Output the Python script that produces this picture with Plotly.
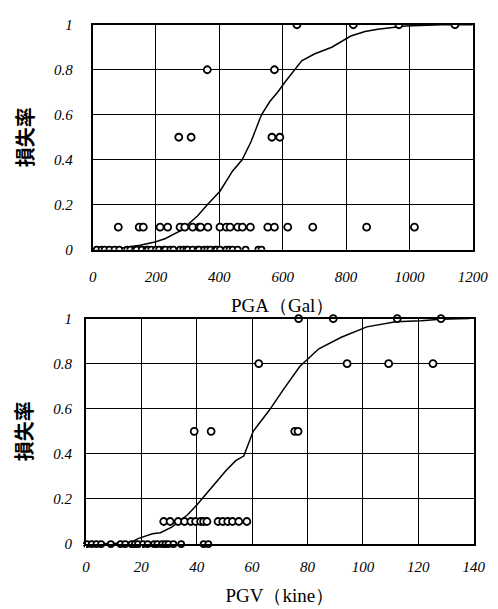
import plotly.graph_objects as go

# ---------------- data: PGA panel ----------------
pga_y1 = [645, 823, 967, 1144]
pga_y08 = [362, 574]
pga_y05 = [272, 311, 566, 591]
pga_y01 = [81, 147, 160, 213, 237, 276, 291, 316, 336, 341, 364, 402, 422, 434,
           458, 473, 498, 553, 574, 616, 695, 865, 1016]
pga_y0 = [13, 28, 38, 53, 69, 84, 109, 119, 134, 139, 155, 170, 175, 185, 200,
          210, 225, 230, 245, 255, 276, 286, 296, 301, 316, 331, 336, 352, 362,
          372, 387, 392, 402, 422, 432, 442, 458, 483, 523, 533]
pga_curve_x = [0, 50, 100, 150, 200, 230, 281, 331, 362, 402, 442, 472, 500,
               533, 560, 584, 610, 639, 660, 700, 755, 815, 860, 900, 988, 1100, 1200]
pga_curve_y = [0, 0.003, 0.01, 0.02, 0.035, 0.05, 0.087, 0.15, 0.2, 0.26, 0.35,
               0.4, 0.48, 0.6, 0.66, 0.7, 0.75, 0.8, 0.84, 0.87, 0.9, 0.95, 0.97,
               0.98, 0.995, 1.0, 1.0]

# ---------------- data: PGV panel ----------------
pgv_y1 = [76.8, 89.3, 112.4, 128.2]
pgv_y08 = [62.4, 94.3, 109.3, 125.3]
pgv_y05 = [39.1, 45.2, 75.4, 76.6]
pgv_y01 = [28.1, 30.4, 33.3, 35.6, 37.9, 39.6, 41.4, 42.5, 43.7, 47.7, 49.4,
           51.2, 52.9, 55.2, 58.1]
pgv_y0 = [0.35, 2.1, 3.8, 5.5, 9.0, 12.5, 14.2, 16.5, 17.7, 18.8, 20.6, 22.3,
          24.6, 25.8, 27.5, 28.7, 29.8, 31.6, 34.4, 42.5, 44.2]
pgv_curve_x = [0, 10, 16.0, 18.8, 24.0, 26.9, 31.0, 36.7, 40.2, 43.7, 47.1, 50.6,
               54.1, 57.0, 60.4, 66.2, 71.4, 77.2, 84.1, 92.2, 101.4, 111.8,
               121.1, 128, 138.4]
pgv_curve_y = [0, 0.002, 0.005, 0.024, 0.046, 0.05, 0.075, 0.13, 0.175, 0.226,
               0.276, 0.326, 0.37, 0.39, 0.5, 0.593, 0.687, 0.787, 0.866, 0.917,
               0.963, 0.986, 0.99, 0.997, 1.0]

fig = go.Figure()

def add_panel(cx, cy, rows, xa, ya, clip):
    fig.add_trace(go.Scatter(x=cx, y=cy, mode="lines", xaxis=xa, yaxis=ya,
                             line=dict(color="black", width=1.5), showlegend=False))
    for vals, yv, sz in rows:
        kw = {} if clip else dict(cliponaxis=False)
        fig.add_trace(go.Scatter(x=vals, y=[yv] * len(vals), mode="markers",
                                 xaxis=xa, yaxis=ya, showlegend=False,
                                 marker=dict(symbol="circle", size=sz, color="white",
                                             line=dict(color="black", width=1.8)),
                                 **kw))

add_panel(pga_curve_x, pga_curve_y,
          [(pga_y0, 0, 6), (pga_y01, 0.1, 7), (pga_y05, 0.5, 7),
           (pga_y08, 0.8, 7), (pga_y1, 1, 7)], "x", "y", True)
add_panel(pgv_curve_x, pgv_curve_y,
          [(pgv_y0, 0, 6), (pgv_y01, 0.1, 7), (pgv_y05, 0.5, 7),
           (pgv_y08, 0.8, 7), (pgv_y1, 1, 7)], "x2", "y2", False)

W, H = 498, 609
TICKFONT = dict(family="Times New Roman", size=15, color="black", style="italic")
titlefont = dict(family="Times New Roman", size=19, color="black", style="normal")
yt_font = dict(family="Noto Sans CJK JP", size=20, color="black", weight="bold",
               style="normal")


def common(tlen):
    return dict(showgrid=True, gridcolor="black", gridwidth=1, showline=True,
                linecolor="black", linewidth=2, mirror=True, ticks="outside",
                ticklen=tlen, tickcolor="white", zeroline=False,
                tickfont=dict(TICKFONT))


fig.update_layout(
    width=W, height=H, margin=dict(l=0, r=0, t=0, b=0),
    paper_bgcolor="white", plot_bgcolor="white",
    font=dict(TICKFONT),
    xaxis=dict(common(12), domain=[84 / W, 480 / W], range=[0, 1200], dtick=200,
               anchor="y", title=dict(text="PGA（Gal）", font=titlefont)),
    yaxis=dict(common(15), domain=[1 - 240 / H, 1 - 9 / H], anchor="x",
               range=[0, 1], dtick=0.2,
               title=dict(text="損失率", font=yt_font)),
    xaxis2=dict(common(8), domain=[77 / W, 481 / W], range=[0, 140], dtick=20,
                anchor="y2", title=dict(text="PGV（kine）", font=titlefont)),
    yaxis2=dict(common(9), domain=[1 - 542.3 / H, 1 - 310.7 / H], anchor="x2",
                range=[0, 1], dtick=0.2,
                title=dict(text="損失率", font=yt_font)),
)

fig.write_html("out.html")
